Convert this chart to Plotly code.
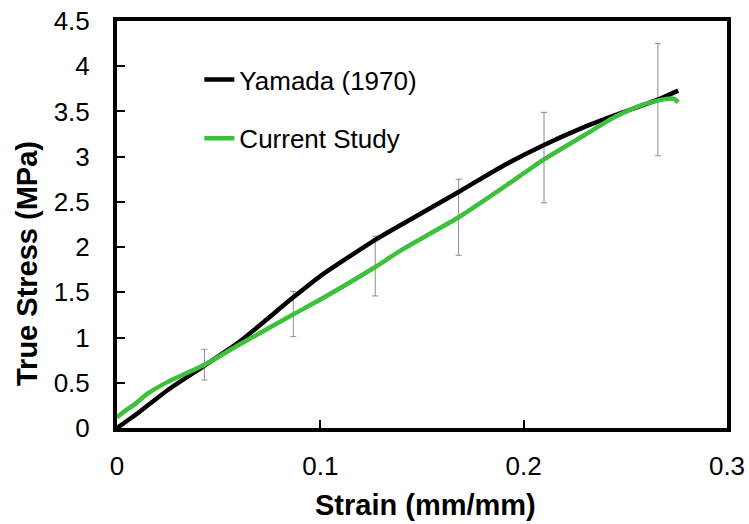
import plotly.graph_objects as go

# Yamada (1970)
yam_x = [0, 0.01, 0.025, 0.043, 0.06, 0.087, 0.1, 0.127, 0.14, 0.168, 0.19, 0.21, 0.23, 0.245, 0.266, 0.276]
yam_y = [0, 0.16, 0.42, 0.69, 0.95, 1.45, 1.68, 2.08, 2.25, 2.61, 2.90, 3.13, 3.33, 3.46, 3.63, 3.73]

# Current Study
cur_x = [0, 0.004, 0.008, 0.015, 0.025, 0.043, 0.06, 0.087, 0.1, 0.127, 0.14, 0.168, 0.19, 0.21, 0.23, 0.245, 0.258, 0.266, 0.271, 0.274, 0.276]
cur_y = [0.12, 0.19, 0.25, 0.38, 0.51, 0.70, 0.92, 1.26, 1.42, 1.78, 1.97, 2.33, 2.66, 2.97, 3.24, 3.44, 3.57, 3.62, 3.64, 3.64, 3.60]

# Error bars (Current Study)
err_x = [0.043, 0.0867, 0.127, 0.168, 0.210, 0.266]
err_y = [0.70, 1.26, 1.79, 2.33, 2.99, 3.63]
err_v = [0.17, 0.25, 0.33, 0.42, 0.50, 0.62]

x_ticks = [0, 0.1, 0.2, 0.3]
x_tick_text = ["0", "0.1", "0.2", "0.3"]
y_ticks = [0, 0.5, 1, 1.5, 2, 2.5, 3, 3.5, 4, 4.5]
y_tick_text = ["0", "0.5", "1", "1.5", "2", "2.5", "3", "3.5", "4", "4.5"]

x_title = "Strain (mm/mm)"
y_title = "True Stress (MPa)"

FONT = "Liberation Sans, Arial, sans-serif"

fig = go.Figure()
fig.add_trace(go.Scatter(
    x=err_x, y=err_y, mode="markers",
    marker=dict(size=1, opacity=0),
    error_y=dict(type="data", array=err_v, color="#8c8c8c", thickness=1, width=3),
    showlegend=False, hoverinfo="skip"))
fig.add_trace(go.Scatter(
    x=yam_x, y=yam_y, mode="lines", name="Yamada (1970)",
    line=dict(color="black", width=4.5, shape="spline", smoothing=0.6),
    legendgroup="a"))
fig.add_trace(go.Scatter(
    x=cur_x, y=cur_y, mode="lines", name="Current Study",
    line=dict(color="#3dc13c", width=4.5, shape="spline", smoothing=0.6),
    legendgroup="b"))

axis_common = dict(
    showline=True, linecolor="black", linewidth=4, mirror=True,
    ticks="inside", ticklen=8, tickwidth=2, tickcolor="black",
    showgrid=False, zeroline=False, automargin=False,
    tickfont=dict(family=FONT, size=26, color="black"),
)

fig.update_layout(
    width=749, height=524,
    margin=dict(l=117, r=22, t=21, b=96),
    paper_bgcolor="white", plot_bgcolor="white",
    font=dict(family=FONT, color="black"),
    xaxis=dict(range=[0, 0.3], tickvals=x_ticks, ticktext=x_tick_text,
               ticklabelstandoff=12, **axis_common),
    yaxis=dict(range=[0, 4.5], tickvals=y_ticks, ticktext=y_tick_text,
               ticklabelstandoff=18, **axis_common),
    annotations=[
        dict(text="<b>" + y_title + "</b>", textangle=-90,
             xref="paper", yref="paper", x=-0.1475, y=0.403,
             xanchor="center", yanchor="middle", showarrow=False,
             font=dict(family=FONT, size=29, color="black")),
        dict(text="<b>" + x_title + "</b>",
             xref="paper", yref="paper", x=0.505, y=-0.189,
             xanchor="center", yanchor="middle", showarrow=False,
             font=dict(family=FONT, size=29, color="black")),
    ],
    legend=dict(x=0.135, y=0.914, xanchor="left", yanchor="top",
                bgcolor="rgba(0,0,0,0)", font=dict(family=FONT, size=26),
                itemwidth=30, tracegroupgap=22),
    showlegend=True,
)

fig.write_html("out.html")
